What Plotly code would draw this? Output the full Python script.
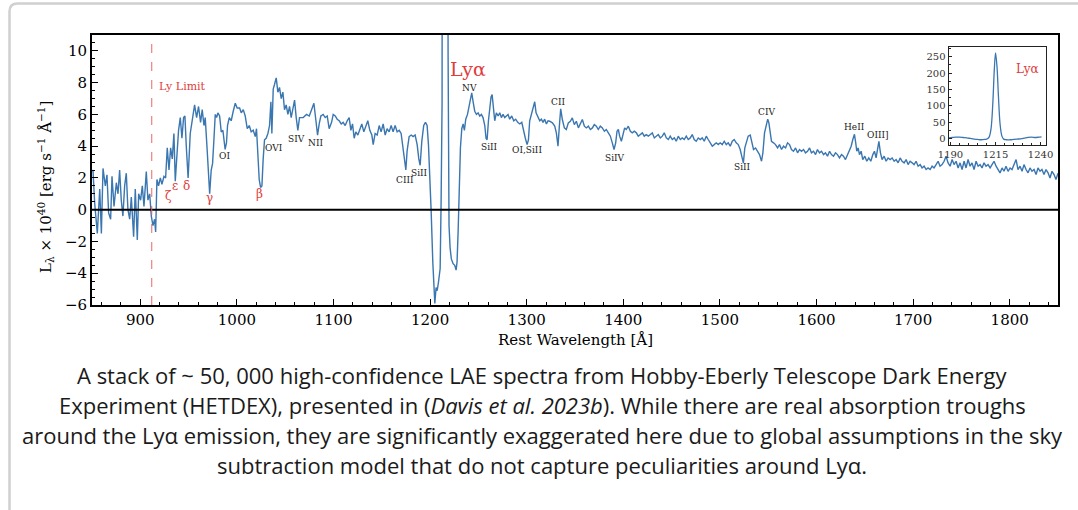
import plotly.graph_objects as go

# ---------------- data ----------------
wavelength = [
    850.0, 851.0, 852.8, 855.5, 858.0, 859.7, 861.4, 863.8, 865.5, 867.2, 869.3, 870.7, 872.8, 875.2,
    876.9, 878.6, 880.3, 882.0, 883.8, 885.5, 887.2, 889.0, 890.7, 893.1, 894.8, 896.9, 898.3, 900.3,
    902.1, 903.8, 906.2, 907.9, 909.7, 911.4, 913.1, 914.8, 915.9, 917.2, 918.9, 920.7, 922.4, 924.5,
    926.2, 927.9, 929.7, 931.4, 933.1, 934.8, 936.2, 937.9, 939.6, 941.4, 943.1, 944.8, 946.2, 947.6,
    949.5, 951.7, 953.8, 956.2, 958.3, 960.3, 962.4, 964.1, 965.9, 967.2, 969.0, 970.7, 971.8, 973.4,
    974.8, 976.2, 977.6, 979.0, 980.3, 982.1, 983.8, 985.5, 987.8, 989.2, 990.3, 992.1, 994.1, 996.2,
    998.3, 1000.3, 1002.8, 1004.5, 1006.6, 1008.6, 1010.7, 1012.8, 1014.8, 1016.9, 1019.0, 1020.3,
    1021.7, 1023.1, 1024.5, 1025.9, 1027.2, 1028.6, 1030.3, 1032.1, 1033.8, 1035.2, 1036.2, 1037.6,
    1039.0, 1040.7, 1042.4, 1044.1, 1045.9, 1047.6, 1049.3, 1051.0, 1052.8, 1054.5, 1056.2, 1058.0,
    1059.7, 1061.4, 1063.1, 1064.8,
    1068.6, 1072.1, 1074.9, 1077.3, 1079.7, 1081.8, 1083.5, 1085.2, 1086.9, 1089.3, 1091.4, 1093.5,
    1095.5, 1098.0, 1099.7, 1101.8, 1103.8, 1105.9, 1108.0, 1110.0, 1112.1, 1114.2, 1116.2, 1118.0,
    1119.7, 1121.4, 1123.1, 1125.2, 1127.3, 1129.3, 1131.4, 1133.5, 1135.5, 1137.6, 1139.7, 1141.1,
    1143.1, 1145.2, 1147.3, 1149.3, 1151.4, 1153.5, 1155.5, 1157.6, 1159.7, 1161.7, 1163.8, 1165.9,
    1168.0, 1170.0, 1172.1, 1173.5, 1174.9, 1176.2, 1178.3, 1180.4, 1182.4, 1184.5, 1186.6, 1188.3,
    1189.7, 1191.4, 1193.4, 1195.2, 1196.9, 1198.3, 1199.2, 1201.1, 1202.8, 1204.2, 1204.9, 1206.2,
    1207.3, 1208.6, 1210.4, 1211.4, 1212.4, 1213.6, 1215.2, 1216.8, 1218.6, 1219.6, 1220.7, 1222.0,
    1223.8, 1225.5, 1226.9, 1227.9, 1229.0, 1230.0, 1231.4, 1232.8, 1234.2, 1235.5, 1236.9, 1238.7,
    1240.4, 1241.8, 1243.1, 1244.5, 1246.2, 1248.0, 1249.7, 1251.4, 1253.1, 1254.8, 1256.6, 1257.9,
    1259.0, 1260.4, 1261.7, 1263.1, 1264.2, 1265.5, 1266.9, 1268.6, 1270.4, 1272.1, 1273.8, 1275.5,
    1277.3, 1279.0, 1280.7, 1282.4, 1284.5, 1286.6, 1288.6, 1290.7, 1292.8, 1294.9, 1296.9, 1298.6,
    1300.4, 1301.8, 1303.1, 1304.9, 1306.6, 1308.3, 1309.7, 1311.4, 1313.5, 1315.2, 1316.9, 1318.6,
    1320.4, 1322.1,
    1323.8, 1326.6, 1329.0, 1330.7, 1332.4, 1333.8, 1335.2, 1336.9, 1339.0, 1341.0, 1343.1, 1345.2,
    1347.2, 1349.3, 1351.4, 1353.5, 1355.5, 1357.6, 1359.7, 1361.7, 1363.8, 1365.9, 1368.0, 1370.0,
    1372.1, 1374.1, 1376.2, 1378.3, 1380.4, 1382.4, 1384.5, 1386.6, 1388.6, 1390.4, 1392.1, 1393.5,
    1394.9, 1396.2, 1398.0, 1399.7, 1401.4, 1403.1, 1405.2, 1407.3, 1409.3, 1411.4, 1413.5, 1415.5,
    1417.6, 1419.7, 1421.7, 1423.8, 1425.9, 1427.9, 1430.0, 1432.1, 1434.1, 1436.2, 1438.3, 1440.4,
    1442.4, 1444.5, 1446.6, 1448.6, 1450.7, 1452.8, 1454.8, 1456.9, 1459.0, 1461.0, 1463.1, 1465.2,
    1467.2, 1469.3, 1471.4, 1473.4, 1475.5, 1477.6, 1479.7, 1481.7, 1483.8, 1485.9, 1487.9, 1490.0,
    1492.1, 1494.1, 1496.2, 1498.3, 1500.3, 1502.4, 1504.5, 1506.6, 1508.6, 1510.7, 1512.8, 1514.8,
    1516.9, 1519.0, 1521.0, 1522.6, 1524.3, 1525.8, 1527.2, 1529.3, 1531.4, 1533.1, 1534.8, 1536.9,
    1539.0, 1541.0, 1543.1, 1544.5, 1546.2, 1548.0, 1549.5, 1550.7, 1552.1, 1553.4, 1555.5, 1557.6,
    1559.7, 1561.7, 1563.8, 1565.9, 1568.0, 1570.0, 1572.1, 1574.1, 1576.2, 1578.3, 1580.4, 1582.4,
    1584.5, 1586.6, 1588.6, 1590.7, 1592.8, 1594.8, 1596.9, 1599.0, 1601.0, 1603.1, 1605.2, 1607.3,
    1609.3, 1611.4, 1613.5, 1615.5, 1617.6, 1619.7, 1621.7, 1623.8, 1625.9, 1627.9, 1630.0, 1632.1,
    1634.1, 1635.9, 1637.6, 1639.3, 1640.6, 1641.7, 1643.1, 1644.5, 1646.2, 1647.9, 1650.0, 1652.1,
    1654.1, 1656.2, 1658.3, 1660.0, 1661.7, 1663.4, 1664.6, 1666.2, 1667.9, 1670.0, 1672.1, 1674.1,
    1676.2, 1678.3, 1680.4, 1682.4, 1684.5, 1686.6, 1688.6, 1690.7, 1692.8, 1694.8, 1696.9, 1699.0,
    1701.0, 1703.1, 1705.2, 1707.3, 1709.3, 1711.4, 1713.5, 1715.5, 1717.6, 1719.7, 1721.7, 1723.8,
    1725.9, 1727.9, 1730.0, 1732.1, 1734.1, 1736.2, 1738.3, 1740.4, 1742.4, 1744.5, 1746.6, 1748.6,
    1750.7, 1752.8, 1754.8, 1756.9, 1759.0, 1761.0, 1763.1, 1765.2, 1767.3, 1769.3, 1771.4, 1773.4,
    1775.5, 1777.6, 1779.7, 1781.7, 1783.8, 1785.9, 1787.9, 1790.0, 1792.1, 1794.1, 1796.2, 1798.3,
    1800.4, 1802.4, 1804.5, 1806.6, 1808.6, 1810.7, 1812.8, 1814.8, 1816.9, 1819.0, 1821.0, 1823.1,
    1825.2, 1827.3, 1829.3, 1831.4, 1833.4, 1835.5, 1837.6, 1839.7, 1841.7, 1843.8, 1845.9, 1847.9,
    1850.0,
]

luminosity = [
    2.4, 2.5, 0.4, -1.5, 1.3, -1.5, 2.6, 1.5, 2.2, -0.2, -0.6, 2.1, 0.2, 1.7,
    1.0, 2.5, 0.6, -0.4, 1.5, 2.3, 0.0, -0.6, 0.8, -1.7, 1.3, -1.9, 1.0, 0.6,
    1.5, 0.2, 2.4, 0.6, 1.0, -0.4, -1.0, -0.6, -1.4, 1.9, 1.5, 2.0, 1.6, 2.1,
    2.0, 3.9, 2.5, 3.9, 3.2, 4.8, 1.8, 3.8, 5.0, 5.8, 4.5, 5.8, 5.9, 4.0,
    2.0, 4.8, 5.7, 6.6, 5.8, 6.5, 5.5, 6.3, 5.3, 5.8, 4.0, 2.3, 1.0, 2.5,
    2.9, 4.4, 6.0, 5.8, 6.1, 5.9, 4.9, 5.0, 3.8, 4.2, 5.3, 5.8, 5.6, 6.2,
    6.7, 6.4, 6.4, 6.1, 6.3, 5.9, 5.1, 5.3, 4.9, 5.0, 4.6, 5.1,
    3.6, 1.9, 1.4, 1.5, 3.2, 4.4, 4.5, 4.8, 5.3, 6.8, 4.8, 7.6,
    7.9, 8.3, 7.4, 7.7, 7.0, 7.4, 6.3, 6.6, 6.0, 6.5, 5.8, 6.4,
    6.9, 5.8, 5.0, 5.8,
    5.8, 6.0, 5.9, 6.3, 6.7, 5.6, 4.7, 5.4, 5.9, 6.0, 5.8, 5.9,
    5.1, 5.5, 6.0, 5.9, 5.7, 5.6, 5.4, 5.5, 5.3, 5.6, 5.8, 5.0,
    5.4, 4.5, 4.9, 4.7, 5.0, 5.4, 4.9, 5.3, 5.6, 5.0, 4.7, 4.1,
    4.8, 4.7, 5.3, 4.9, 5.4, 4.7, 5.1, 4.9, 5.3, 4.9, 5.3, 4.9,
    5.0, 4.8, 3.9, 3.0, 2.5, 3.7, 4.6, 4.7, 4.6, 4.7, 4.1, 3.2,
    2.8, 4.3, 5.3, 5.5, 5.3, 4.1, 3.0, -0.1, -3.3, -5.6, -5.9, -4.9,
    -5.1, -4.6, -3.7, 0.5, 6.8, 120.0, 262.0, 120.0, 10.0, -1.0, -2.4, -3.1,
    -3.4, -3.5, -3.8, -3.3, -1.4, 1.6, 3.9, 5.1, 5.4, 5.0, 5.7, 6.0,
    6.5, 7.1, 7.35, 6.8, 6.2, 6.0, 6.1, 5.9, 6.0, 5.8, 5.3, 4.5,
    4.4, 5.6, 6.5, 7.1, 7.25, 6.2, 5.6, 6.1, 5.9, 6.1, 5.8, 6.0,
    5.8, 5.9, 6.0, 5.7, 5.9, 5.6, 5.7, 5.5, 5.4, 5.5, 4.9, 4.5,
    4.1, 4.4, 5.6, 6.0, 6.5, 6.8, 6.1, 5.9, 5.6, 5.7, 5.5, 5.7,
    5.4, 5.6,
    5.57, 5.47, 5.26, 4.84, 4.0, 5.26, 6.35, 5.68, 5.15, 5.05, 5.47, 5.57,
    5.78, 5.36, 5.57, 5.15, 5.47, 5.68, 5.26, 5.15, 5.26, 5.05, 5.15, 5.36,
    5.26, 5.05, 5.26, 5.15, 4.94, 5.05, 4.84, 4.63, 4.21, 3.79, 4.21, 4.94,
    5.05, 4.63, 4.31, 4.84, 5.15, 5.05, 5.26, 4.94, 4.84, 4.94, 4.84, 4.63,
    4.73, 4.84, 4.63, 4.73, 4.63, 4.73, 4.84, 4.52, 4.63, 4.73, 4.52, 4.63,
    4.84, 4.52, 4.42, 4.63, 4.42, 4.52, 4.31, 4.63, 4.42, 4.52, 4.42, 4.63,
    4.42, 4.52, 4.73, 4.42, 4.31, 4.52, 4.42, 4.52, 4.31, 4.63, 4.42, 4.21,
    4.0, 4.10, 4.21, 4.10, 4.21, 4.10, 4.31, 4.10, 4.21, 4.0, 4.31, 4.42,
    4.21, 4.10, 3.79, 3.37, 2.95, 3.89, 4.21, 4.63, 4.70, 4.21, 3.79, 3.89,
    3.68, 3.47, 3.05, 3.58, 4.84, 5.26, 5.70, 5.47, 4.84, 4.31, 4.21, 4.10,
    3.89, 4.10, 3.79, 4.0, 3.89, 4.21, 4.10, 3.79, 3.68, 3.89, 3.58, 3.79,
    3.68, 3.79, 3.58, 3.68, 3.89, 3.58, 3.68, 3.47, 3.79, 3.58, 3.68, 3.47,
    3.58, 3.37, 3.68, 3.47, 3.37, 3.58, 3.47, 3.26, 3.47, 3.37, 3.16, 3.47,
    3.68, 4.0, 4.42, 4.75, 4.21, 3.68, 3.89, 3.47, 3.68, 3.16, 3.37, 3.05,
    3.26, 3.05, 3.47, 3.68, 3.26, 3.79, 4.30, 3.58, 3.16, 3.37, 3.05, 3.26,
    3.16, 3.26, 3.05, 3.16, 2.95, 3.26, 3.05, 2.95, 3.16, 2.84, 3.05, 2.95,
    2.84, 3.05, 2.74, 2.84, 2.63, 2.74, 2.53, 2.63, 2.53, 2.74, 2.63, 2.84,
    3.05, 2.74, 2.84, 3.05, 3.37, 2.95, 2.74, 3.16, 2.84, 3.05, 2.63, 2.95,
    2.53, 3.05, 2.63, 3.16, 2.74, 2.95, 2.53, 3.05, 2.74, 2.84, 2.63, 2.95,
    2.74, 2.84, 2.63, 2.84, 3.05, 2.74, 2.53, 2.32, 2.63, 2.42, 2.74, 2.42,
    2.63, 2.53, 2.84, 3.16, 2.53, 2.74, 2.42, 2.84, 2.53, 2.32, 2.63, 2.42,
    2.53, 2.21, 2.63, 2.42, 2.53, 2.21, 2.53, 2.32, 2.0, 2.42, 2.21, 1.9,
    2.3,
]

inset_wavelength = [1189, 1191, 1193, 1195, 1197, 1199, 1201, 1203, 1205, 1207, 1209, 1210.5,
                    1211.5, 1212.5, 1213.5, 1214.3, 1215.0, 1215.8, 1216.6, 1217.5, 1218.5, 1219.5,
                    1221, 1223, 1225, 1227, 1229, 1231, 1233, 1235, 1237, 1239, 1240.5]
inset_luminosity = [2, 3, 4, 4, 3, 2, 0, -2, -3, -4, -3, -1,
                    5, 30, 110, 210, 262, 220, 130, 45, 8, -2,
                    -4, -4, -3, -2, -1, 1, 3, 4, 3, 4, 5]

x_ticks = [900, 1000, 1100, 1200, 1300, 1400, 1500, 1600, 1700, 1800]
y_ticks = [-6, -4, -2, 0, 2, 4, 6, 8, 10]
inset_x_ticks = [1190, 1215, 1240]
inset_y_ticks = [0, 50, 100, 150, 200, 250]

ly_limit = 911.8

# absorption / emission line labels: (text, wavelength, y)
line_labels = [
    ("OI", 986.8, 3.37), ("OVI", 1038.0, 3.9), ("SIV", 1062.0, 4.47), ("NII", 1081.8, 4.2),
    ("CIII", 1173.8, 1.87), ("SiII", 1188.7, 2.31), ("NV", 1240.6, 7.66), ("SiII", 1261.3, 3.96),
    ("OI,SiII", 1300.7, 3.79), ("CII", 1332.3, 6.78), ("SiIV", 1391.5, 3.27), ("SiII", 1523.0, 2.68),
    ("CIV", 1547.8, 6.15), ("HeII", 1639.4, 5.2), ("OIII]", 1663.3, 4.68),
]
lyman_labels = [("ζ", 928.7, 0.85), ("ε", 935.8, 1.5), ("δ", 948.2, 1.5), ("γ", 971.5, 0.75),
                ("β", 1023.2, 1.0)]

caption_lines = [
    "A stack of ~ 50, 000 high-confidence LAE spectra from Hobby-Eberly Telescope Dark Energy",
    "Experiment (HETDEX), presented in (<i>Davis et al. 2023b</i>). While there are real absorption troughs",
    "around the Lyα emission, they are significantly exaggerated here due to global assumptions in the sky",
    "subtraction model that do not capture peculiarities around Lyα.",
]

# ---------------- layout helpers ----------------
W, H = 1078, 510
ML, MR, MT, MB = 92, 20, 35, 205


def px(x):
    return (x - ML) / (W - ML - MR)


def py(y):
    return (H - MB - y) / (H - MT - MB)


SERIF = "DejaVu Serif"
BLUE = "#3a76b0"
RED = "#e03c3c"

fig = go.Figure()
fig.add_trace(go.Scatter(x=wavelength, y=luminosity, mode="lines",
                         line=dict(color=BLUE, width=1.4), showlegend=False, hoverinfo="skip"))
fig.add_trace(go.Scatter(x=inset_wavelength, y=inset_luminosity, mode="lines", xaxis="x2", yaxis="y2",
                         line=dict(color=BLUE, width=1.3, shape="spline"), showlegend=False,
                         hoverinfo="skip"))

axis_common = dict(showline=True, linecolor="black", linewidth=2, mirror=True, ticks="inside",
                   ticklen=6, tickwidth=1.2, tickcolor="black", showgrid=False, zeroline=False,
                   tickfont=dict(family=SERIF, size=15, color="black"))

fig.update_layout(
    width=W, height=H, margin=dict(l=ML, r=MR, t=MT, b=MB),
    paper_bgcolor="white", plot_bgcolor="white",
    xaxis=dict(range=[850, 1850], tickvals=x_ticks,
               minor=dict(dtick=20, ticks="inside", ticklen=3, tickcolor="black", tickwidth=1),
               **axis_common),
    yaxis=dict(range=[-6, 11], tickvals=y_ticks,
               minor=dict(dtick=0.5, ticks="inside", ticklen=3, tickcolor="black", tickwidth=1),
               **axis_common),
    xaxis2=dict(domain=[px(948.7), px(1046)], anchor="y2", range=[1189, 1243], tickvals=inset_x_ticks,
                showline=True, linecolor="#222", linewidth=1.3, mirror=True, ticks="inside", ticklen=3,
                tickcolor="#222", showgrid=False, zeroline=False,
                minor=dict(dtick=5, ticks="inside", ticklen=2, tickcolor="#222"),
                tickfont=dict(family=SERIF, size=10, color="#333")),
    yaxis2=dict(domain=[py(145), py(47.3)], anchor="x2", range=[-20, 279], tickvals=inset_y_ticks,
                showline=True, linecolor="#222", linewidth=1.3, mirror=True, ticks="inside", ticklen=3,
                tickcolor="#222", showgrid=False, zeroline=False,
                minor=dict(dtick=25, ticks="inside", ticklen=2, tickcolor="#222"),
                tickfont=dict(family=SERIF, size=10, color="#333")),
)

# zero line and Lyman limit
fig.add_shape(type="line", xref="x domain", yref="y", x0=0, x1=1, y0=0, y1=0,
              line=dict(color="black", width=2))
fig.add_shape(type="line", xref="x", yref="y domain", x0=ly_limit, x1=ly_limit, y0=0, y1=1,
              line=dict(color="rgba(232,96,96,0.8)", width=1.2, dash="dash"))
fig.add_shape(type="line", xref="x2 domain", yref="y2", x0=0, x1=1, y0=0, y1=0,
              line=dict(color="#999", width=1.5), layer="below")

# page card border
r = 8
x0, yt = 9.5, 3.5
card_path = (f"M {px(x0)},{py(530)} L {px(x0)},{py(yt + r)} "
             f"Q {px(x0)},{py(yt)} {px(x0 + r)},{py(yt)} L {px(1100)},{py(yt)}")
fig.add_shape(type="path", xref="paper", yref="paper", path=card_path,
              line=dict(color="#d0d0d0", width=2.5), layer="below")

ann = []
ann.append(dict(text="Ly Limit", x=917, y=7.77, xref="x", yref="y", xanchor="left", showarrow=False,
                font=dict(family=SERIF, size=11, color=RED)))
ann.append(dict(text="Lyα", x=1239.3, y=8.87, xref="x", yref="y", showarrow=False,
                font=dict(family=SERIF, size=19, color=RED)))
for t, xv, yv in line_labels:
    ann.append(dict(text=t, x=xv, y=yv, xref="x", yref="y", showarrow=False,
                    font=dict(family=SERIF, size=9, color="#222")))
for t, xv, yv in lyman_labels:
    ann.append(dict(text=t, x=xv, y=yv, xref="x", yref="y", showarrow=False,
                    font=dict(family=SERIF, size=12, color=RED)))
ann.append(dict(text="Lyα", x=1233, y=213, xref="x2", yref="y2", showarrow=False,
                font=dict(family=SERIF, size=12, color=RED)))
# axis titles
ann.append(dict(text="L<sub>λ</sub> × 10<sup>40</sup> [erg s<sup>−1</sup> Å<sup>−1</sup>]",
                x=px(46), y=py(187), xref="paper", yref="paper", xanchor="center", yanchor="middle",
                textangle=-90, showarrow=False, font=dict(family=SERIF, size=15, color="black")))
ann.append(dict(text="Rest Wavelength [Å]", x=px(575), y=py(340), xref="paper", yref="paper",
                xanchor="center", yanchor="middle", showarrow=False,
                font=dict(family=SERIF, size=15, color="black")))
# caption
for i, line in enumerate(caption_lines):
    ann.append(dict(text=line, x=px(542), y=py(375 + 30 * i), xref="paper", yref="paper",
                    xanchor="center", yanchor="middle", showarrow=False,
                    font=dict(family="Open Sans", size=22, color="#1a1a1a")))

fig.update_layout(annotations=ann)
fig.write_html("out.html")
